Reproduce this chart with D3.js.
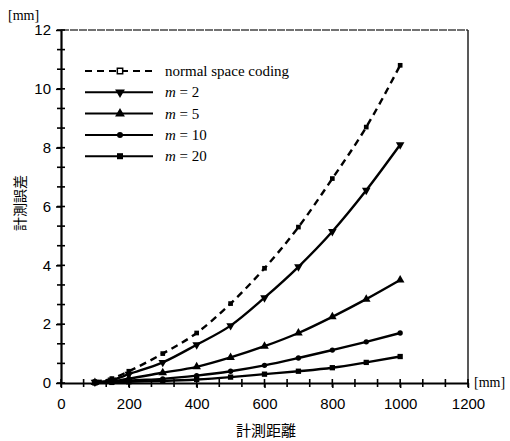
<!DOCTYPE html>
<html><head><meta charset="utf-8">
<script src="https://cdn.jsdelivr.net/npm/d3@7"></script>
<style>body{margin:0;background:#fff}svg{display:block}</style>
</head><body>
<svg id="c" width="510" height="441"></svg>
<script>
const distances = [100, 150, 200, 300, 400, 500, 600, 700, 800, 900, 1000];
const normalSpace = [0.05, 0.15, 0.4, 1.0, 1.7, 2.7, 3.9, 5.3, 6.95, 8.7, 10.8];
const m2  = [0.03, 0.1, 0.3, 0.7, 1.3, 1.95, 2.9, 3.95, 5.15, 6.55, 8.1];
const m5  = [0.02, 0.06, 0.15, 0.35, 0.55, 0.87, 1.25, 1.7, 2.25, 2.85, 3.5];
const m10 = [0.01, 0.03, 0.08, 0.14, 0.25, 0.4, 0.6, 0.85, 1.12, 1.4, 1.7];
const m20 = [0.0, 0.02, 0.04, 0.07, 0.12, 0.2, 0.3, 0.4, 0.52, 0.7, 0.9];
const seriesNames = ["normal space coding", "m = 2", "m = 5", "m = 10", "m = 20"];
const xTicks = [0, 200, 400, 600, 800, 1000, 1200];
const yTicks = [0, 2, 4, 6, 8, 10, 12];

const svg = d3.select("#c");
const x = d3.scaleLinear().domain([0, 1200]).range([61, 468]);
const y = d3.scaleLinear().domain([0, 12]).range([383, 30]);

// frame
svg.append("line").attr("x1", x(0)).attr("x2", x(1200)).attr("y1", y(12)).attr("y2", y(12))
  .attr("stroke", "#444").attr("stroke-width", 1.3).attr("stroke-dasharray", "8,1");
svg.append("line").attr("x1", x(1200)).attr("x2", x(1200)).attr("y1", y(12)).attr("y2", y(0))
  .attr("stroke", "#222").attr("stroke-width", 1.5);

// axes
const xAxis = svg.append("g").attr("transform", `translate(0,${y(0)})`)
  .call(d3.axisBottom(x).tickValues(xTicks).tickFormat(d3.format("d")).tickSize(5).tickSizeOuter(0).tickPadding(10));
const yAxis = svg.append("g").attr("transform", `translate(${x(0)},0)`)
  .call(d3.axisLeft(y).tickValues(yTicks).tickSize(5).tickSizeOuter(0).tickPadding(5));
[xAxis, yAxis].forEach(a => {
  a.select(".domain").attr("stroke", "#000").attr("stroke-width", 2.2);
  a.selectAll(".tick line").attr("stroke", "#000").attr("stroke-width", 1.5);
  a.selectAll(".tick text").attr("font-family", "Liberation Sans, Arial, sans-serif")
    .attr("font-size", 15).attr("fill", "#000");
});

// minor ticks
const xMinor = d3.range(0, 1201, 200/3);
const yMinor = d3.range(0, 12.01, 2/3);
svg.append("g").selectAll("line").data(xMinor).join("line")
  .attr("x1", d => x(d)).attr("x2", d => x(d)).attr("y1", y(0) - 4).attr("y2", y(0) + 4)
  .attr("stroke", "#000").attr("stroke-width", 1.6);
svg.append("g").selectAll("line").data(yMinor).join("line")
  .attr("x1", x(0) - 4).attr("x2", x(0) + 4).attr("y1", d => y(d)).attr("y2", d => y(d))
  .attr("stroke", "#000").attr("stroke-width", 1.6);

// units
svg.append("text").attr("x", 8).attr("y", 20).text("[mm]")
  .attr("font-family", "Liberation Serif, Times New Roman, serif").attr("font-size", 14);
svg.append("text").attr("x", 474).attr("y", 387).text("[mm]")
  .attr("font-family", "Liberation Serif, Times New Roman, serif").attr("font-size", 14);

// axis titles
svg.append("text").attr("x", 266).attr("y", 436).attr("text-anchor", "middle").text("計測距離")
  .attr("font-family", "Noto Sans CJK JP").attr("font-size", 15);
svg.append("text").attr("transform", "translate(25,203) rotate(-90)").attr("text-anchor", "middle")
  .text("計測誤差").attr("font-family", "Noto Sans CJK JP").attr("font-size", 14);

const series = [
  {name: seriesNames[0], vals: normalSpace, dash: "7,5", sym: "square", size: 22},
  {name: seriesNames[1], vals: m2, dash: null, sym: "triDown", size: 32},
  {name: seriesNames[2], vals: m5, dash: null, sym: "triUp", size: 32},
  {name: seriesNames[3], vals: m10, dash: null, sym: "circle", size: 22},
  {name: seriesNames[4], vals: m20, dash: null, sym: "square", size: 28},
];
function symPath(s, scale) {
  const sz = s.size * (scale || 1);
  if (s.sym === "triDown" || s.sym === "triUp") return d3.symbol(d3.symbolTriangle, sz)();
  if (s.sym === "circle") return d3.symbol(d3.symbolCircle, sz)();
  return d3.symbol(d3.symbolSquare, sz)();
}
const line = d3.line().x(d => x(d[0])).y(d => y(d[1])).curve(d3.curveMonotoneX);
series.forEach(s => {
  const pts = distances.map((d, i) => [d, s.vals[i]]);
  svg.append("path").attr("d", line(pts)).attr("fill", "none").attr("stroke", "#000")
    .attr("stroke-width", 2.4).attr("stroke-dasharray", s.dash);
  svg.append("g").selectAll("path").data(pts).join("path")
    .attr("d", symPath(s))
    .attr("transform", d => `translate(${x(d[0])},${y(d[1])})` + (s.sym === "triDown" ? " rotate(180)" : ""))
    .attr("fill", "#000");
});

// legend
const lg = svg.append("g");
series.forEach((s, i) => {
  const ly = 71 + i * 21.3;
  lg.append("line").attr("x1", 85).attr("x2", 153).attr("y1", ly).attr("y2", ly)
    .attr("stroke", "#000").attr("stroke-width", 2).attr("stroke-dasharray", s.dash ? "7,5" : null);
  lg.append("path").attr("d", symPath(s, 1.3))
    .attr("transform", `translate(120,${ly})` + (s.sym === "triDown" ? " rotate(180)" : ""))
    .attr("fill", i === 0 ? "#fff" : "#000").attr("stroke", "#000").attr("stroke-width", i === 0 ? 1.5 : 0);
  const t = lg.append("text").attr("x", 165).attr("y", ly + 5)
    .attr("font-family", "Liberation Serif, Times New Roman, serif").attr("font-size", 15);
  if (i === 0) t.text(s.name);
  else {
    t.append("tspan").attr("font-style", "italic").text("m");
    t.append("tspan").text(" = " + s.name.split("= ")[1]);
  }
});
</script>
</body></html>
